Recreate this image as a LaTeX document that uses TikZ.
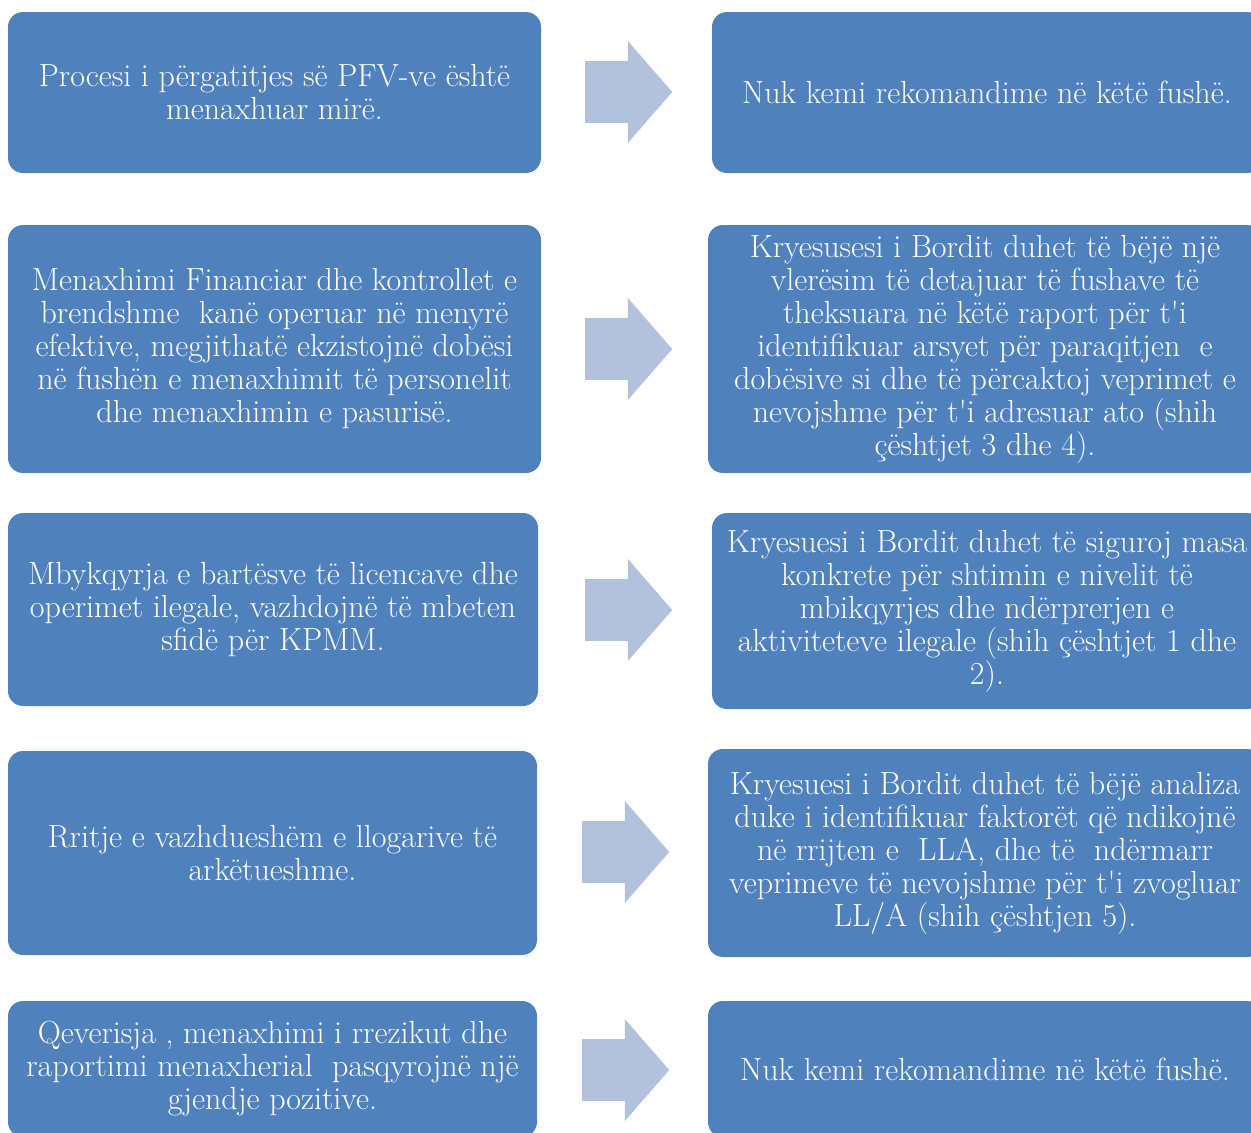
\documentclass[tikz,border=0pt]{standalone}
\usepackage{tikz}
\usetikzlibrary{shapes.arrows}
\definecolor{boxblue}{HTML}{4F81BD}
\definecolor{arrowblue}{HTML}{B2C1DC}
\newcommand{\tq}{\textquotesingle}

\begin{document}
\begin{tikzpicture}[x=1pt,y=-1pt,
    box/.style={fill=boxblue,rounded corners=15pt,text=white,align=center,inner sep=0pt,font=\fontsize{32}{33}\selectfont},
    blockarrow/.style={single arrow,fill=arrowblue,minimum height=87pt,minimum width=102pt,single arrow head extend=20pt,single arrow tip angle=98,inner xsep=0pt,inner ysep=30.5pt,anchor=tail}]
    \clip (0,0) rectangle (1251,1133);

    \node[box,minimum width=533pt,minimum height=161pt] (l1) at (274.5,92.5) {Procesi i përgatitjes së PFV-ve është\\menaxhuar mirë.};
    \node[box,minimum width=533pt,minimum height=248pt] (l2) at (274.5,349) {Menaxhimi Financiar dhe kontrollet e\\brendshme\ \ kanë operuar në menyrë\\efektive, megjithatë ekzistojnë dobësi\\në fushën e menaxhimit të personelit\\dhe menaxhimin e pasurisë.};
    \node[box,minimum width=530pt,minimum height=193pt] (l3) at (273,609.5) {Mbykqyrja e bartësve të licencave dhe\\operimet ilegale, vazhdojnë të mbeten\\sfidë për KPMM.};
    \node[box,minimum width=529pt,minimum height=204pt] (l4) at (272.5,853) {Rritje e vazhdueshëm e llogarive të\\arkëtueshme.};
    \node[box,minimum width=529pt,minimum height=136pt] (l5) at (272.5,1069) {Qeverisja , menaxhimi i rrezikut dhe\\raportimi menaxherial\ \ pasqyrojnë një\\gjendje pozitive.};

    \node[box,minimum width=550pt,minimum height=161pt] (r1) at (987,92.5) {Nuk kemi rekomandime në këtë fushë.};
    \node[box,minimum width=554pt,minimum height=248pt] (r2) at (985,349) {Kryesusesi i Bordit duhet të bëjë një\\vlerësim të detajuar të fushave të\\theksuara në këtë raport për t\tq i\\identifikuar arsyet për paraqitjen\ \ e\\dobësive si dhe të përcaktoj veprimet e\\nevojshme për t\tq i adresuar ato (shih\\çështjet 3 dhe 4).};
    \node[box,minimum width=550pt,minimum height=196pt] (r3) at (987,611) {Kryesuesi i Bordit duhet të siguroj masa\\konkrete për shtimin e nivelit të\\mbikqyrjes dhe ndërprerjen e\\aktiviteteve ilegale (shih çështjet 1 dhe\\2).};
    \node[box,minimum width=554pt,minimum height=208pt] (r4) at (985,853) {Kryesuesi i Bordit duhet të bëjë analiza\\duke i identifikuar faktorët që ndikojnë\\në rrijten e\ \ LLA, dhe të\ \ ndërmarr\\veprimeve të nevojshme për t\tq i zvogluar\\LL/A (shih çështjen 5).};
    \node[box,minimum width=554pt,minimum height=136pt] (r5) at (985,1069) {Nuk kemi rekomandime në këtë fushë.};

    \foreach \n/\x/\y in {1/585/92,2/585/349,3/585/610,4/582/852,5/582/1070} {
        \node[blockarrow] (a\n) at (\x,\y) {};
    }
\end{tikzpicture}
\end{document}
